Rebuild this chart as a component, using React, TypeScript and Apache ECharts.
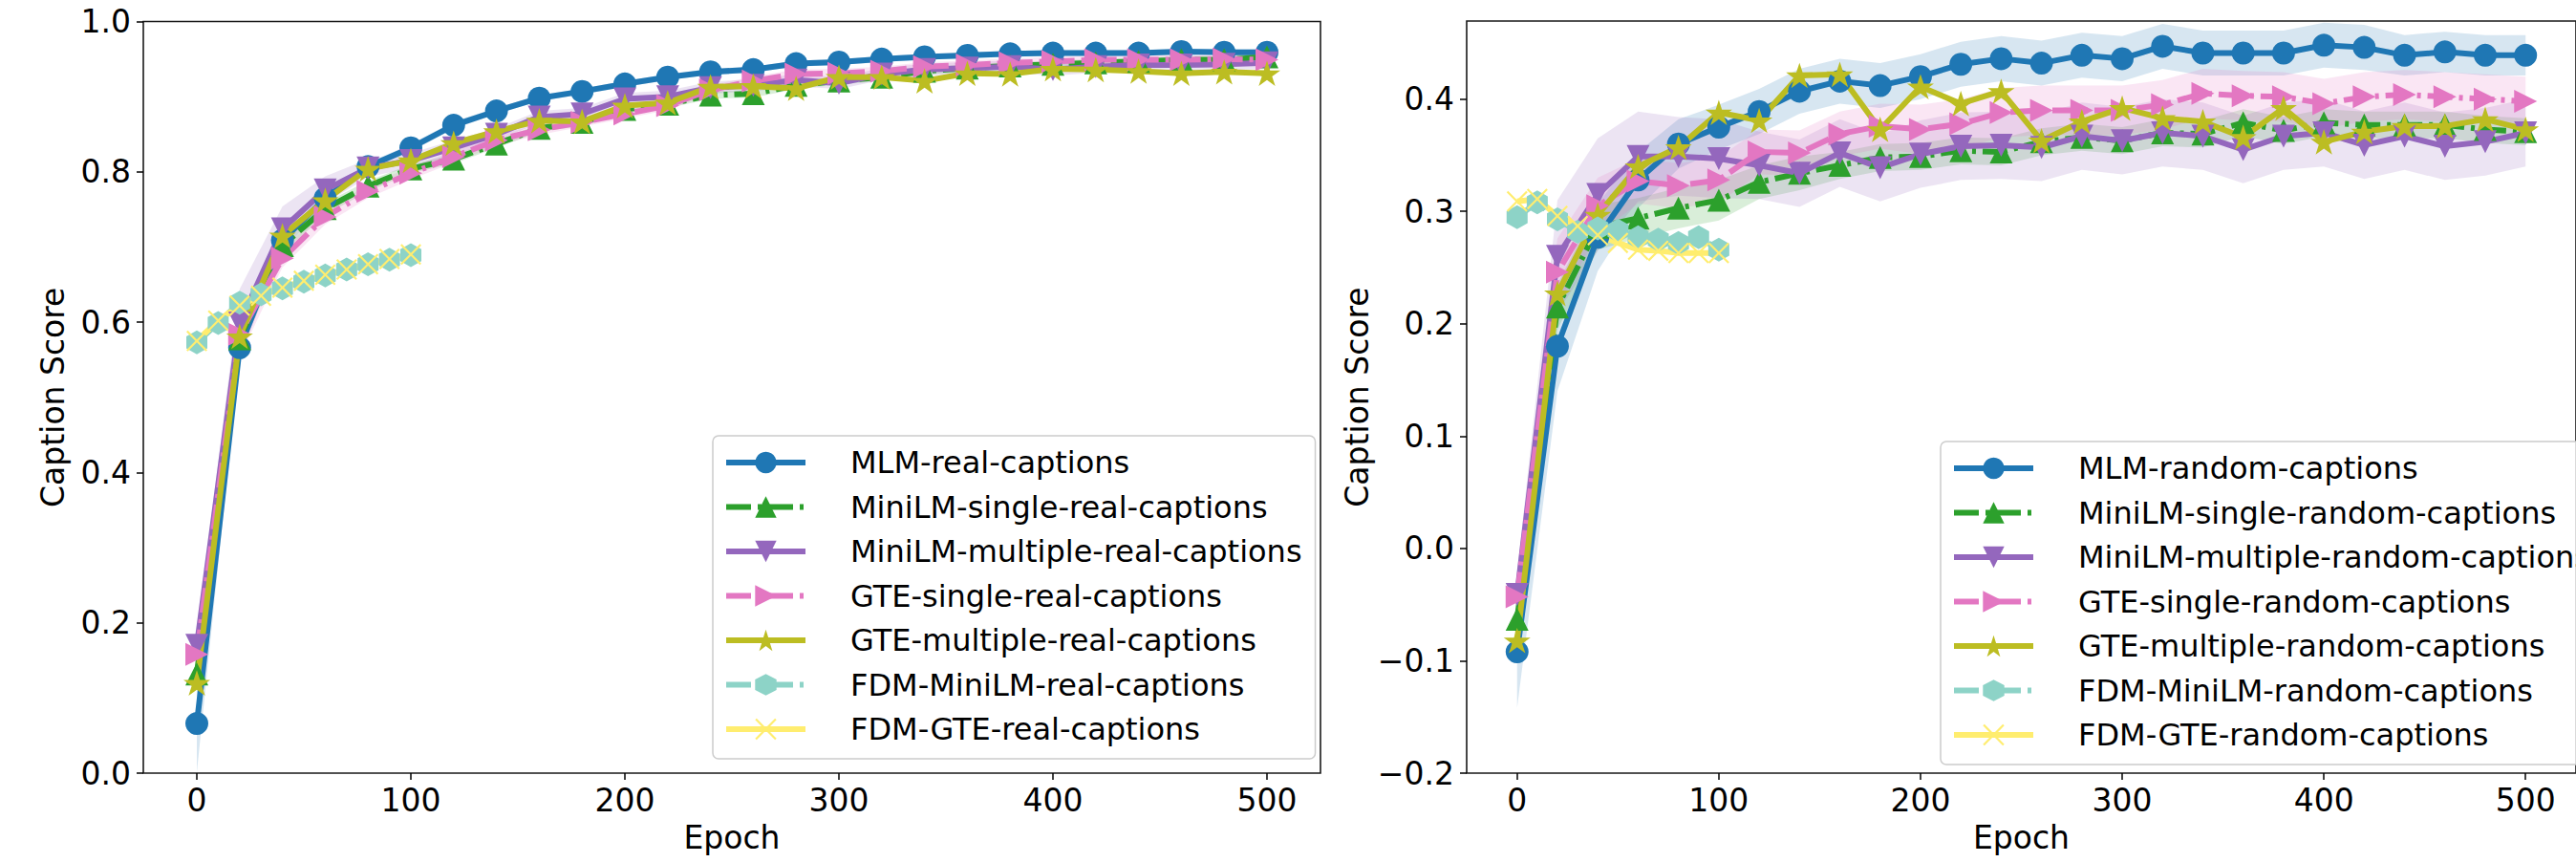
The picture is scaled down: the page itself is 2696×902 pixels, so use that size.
import React, { useEffect, useRef } from "react";
import * as echarts from "echarts";

// ---------- data ----------
const epochs = [0, 20, 40, 60, 80, 100, 120, 140, 160, 180, 200, 220, 240, 260, 280, 300, 320, 340, 360, 380, 400, 420, 440, 460, 480, 500];
const fdmEpochs = [0, 10, 20, 30, 40, 50, 60, 70, 80, 90, 100];

const xTicks = [0, 100, 200, 300, 400, 500];
const yTicksLeft = [0, 0.2, 0.4, 0.6, 0.8, 1.0];
const yTicksRight = [-0.2, -0.1, 0, 0.1, 0.2, 0.3, 0.4];

// left panel (real captions)
const mlmReal = [0.066, 0.566, 0.709, 0.765, 0.807, 0.832, 0.862, 0.881, 0.898, 0.907, 0.917, 0.926, 0.933, 0.936, 0.944, 0.946, 0.950, 0.953, 0.955, 0.957, 0.958, 0.958, 0.958, 0.960, 0.959, 0.959];
const miniSingleReal = [0.132, 0.578, 0.702, 0.751, 0.781, 0.804, 0.817, 0.837, 0.858, 0.866, 0.883, 0.890, 0.902, 0.904, 0.915, 0.921, 0.926, 0.934, 0.938, 0.941, 0.943, 0.945, 0.947, 0.949, 0.949, 0.953];
const miniMultiReal = [0.170, 0.599, 0.724, 0.776, 0.805, 0.815, 0.832, 0.850, 0.873, 0.877, 0.897, 0.900, 0.912, 0.915, 0.922, 0.918, 0.930, 0.936, 0.938, 0.940, 0.936, 0.940, 0.942, 0.942, 0.943, 0.945];
const gteSingleReal = [0.158, 0.584, 0.685, 0.740, 0.774, 0.798, 0.820, 0.842, 0.856, 0.866, 0.877, 0.888, 0.909, 0.921, 0.930, 0.931, 0.934, 0.940, 0.942, 0.945, 0.947, 0.949, 0.949, 0.949, 0.950, 0.949];
const gteMultiReal = [0.120, 0.581, 0.715, 0.762, 0.804, 0.815, 0.838, 0.854, 0.868, 0.867, 0.888, 0.892, 0.913, 0.914, 0.911, 0.926, 0.926, 0.921, 0.931, 0.930, 0.937, 0.936, 0.934, 0.931, 0.933, 0.931];
const fdmMiniReal = [0.573, 0.599, 0.626, 0.637, 0.645, 0.654, 0.662, 0.670, 0.677, 0.683, 0.689];
const fdmGteReal = [0.575, 0.602, 0.622, 0.635, 0.646, 0.655, 0.663, 0.670, 0.677, 0.684, 0.690];

const mlmRealStd = [0.065, 0.012, 0.006, 0.005, 0.005, 0.005, 0.005, 0.004, 0.004, 0.004, 0.004, 0.004, 0.004, 0.004, 0.004, 0.004, 0.004, 0.004, 0.004, 0.004, 0.004, 0.004, 0.004, 0.004, 0.004, 0.004];
const miniSingleRealStd = [0.012, 0.02, 0.01, 0.008, 0.007, 0.006, 0.006, 0.005, 0.005, 0.005, 0.005, 0.005, 0.005, 0.005, 0.005, 0.005, 0.005, 0.005, 0.005, 0.005, 0.005, 0.005, 0.005, 0.005, 0.005, 0.005];
const miniMultiRealStd = [0.015, 0.045, 0.03, 0.018, 0.012, 0.01, 0.01, 0.008, 0.008, 0.008, 0.008, 0.008, 0.008, 0.008, 0.008, 0.008, 0.008, 0.008, 0.008, 0.008, 0.008, 0.008, 0.008, 0.008, 0.008, 0.008];
const gteSingleRealStd = [0.02, 0.03, 0.012, 0.01, 0.009, 0.008, 0.008, 0.007, 0.007, 0.006, 0.006, 0.006, 0.006, 0.006, 0.006, 0.006, 0.006, 0.006, 0.006, 0.006, 0.006, 0.006, 0.006, 0.006, 0.006, 0.006];

// right panel (random captions)
const mlmRand = [-0.092, 0.180, 0.277, 0.328, 0.360, 0.375, 0.389, 0.407, 0.416, 0.412, 0.420, 0.431, 0.436, 0.432, 0.439, 0.436, 0.447, 0.441, 0.441, 0.441, 0.448, 0.446, 0.439, 0.442, 0.439, 0.439];
const miniSingleRand = [-0.063, 0.215, 0.286, 0.294, 0.303, 0.310, 0.326, 0.334, 0.341, 0.348, 0.349, 0.354, 0.353, 0.362, 0.366, 0.363, 0.370, 0.369, 0.379, 0.372, 0.379, 0.377, 0.377, 0.377, 0.373, 0.371];
const miniMultiRand = [-0.041, 0.260, 0.315, 0.349, 0.349, 0.347, 0.341, 0.334, 0.352, 0.339, 0.351, 0.358, 0.359, 0.357, 0.367, 0.363, 0.370, 0.367, 0.355, 0.367, 0.370, 0.359, 0.367, 0.358, 0.362, 0.370];
const gteSingleRand = [-0.043, 0.246, 0.305, 0.327, 0.323, 0.328, 0.353, 0.352, 0.369, 0.376, 0.373, 0.378, 0.388, 0.390, 0.390, 0.390, 0.395, 0.405, 0.403, 0.402, 0.396, 0.402, 0.404, 0.402, 0.400, 0.398];
const gteMultiRand = [-0.082, 0.227, 0.297, 0.340, 0.357, 0.388, 0.381, 0.421, 0.422, 0.373, 0.411, 0.396, 0.407, 0.363, 0.380, 0.392, 0.383, 0.380, 0.366, 0.392, 0.362, 0.371, 0.376, 0.376, 0.382, 0.373];
const fdmMiniRand = [0.295, 0.308, 0.293, 0.282, 0.285, 0.283, 0.277, 0.275, 0.272, 0.277, 0.266];
const fdmGteRand = [0.309, 0.311, 0.296, 0.287, 0.279, 0.272, 0.266, 0.265, 0.263, 0.263, 0.263];

const mlmRandStd = [0.05, 0.04, 0.03, 0.025, 0.022, 0.02, 0.02, 0.02, 0.02, 0.02, 0.02, 0.02, 0.02, 0.02, 0.02, 0.02, 0.02, 0.02, 0.02, 0.02, 0.02, 0.02, 0.018, 0.018, 0.018, 0.018];
const miniSingleRandStd = [0.012, 0.02, 0.02, 0.018, 0.018, 0.018, 0.015, 0.015, 0.012, 0.012, 0.012, 0.012, 0.012, 0.012, 0.012, 0.012, 0.012, 0.012, 0.012, 0.012, 0.012, 0.012, 0.012, 0.012, 0.012, 0.012];
const miniMultiRandStd = [0.02, 0.05, 0.05, 0.04, 0.035, 0.035, 0.03, 0.03, 0.03, 0.03, 0.03, 0.03, 0.03, 0.03, 0.03, 0.03, 0.03, 0.03, 0.03, 0.03, 0.03, 0.03, 0.03, 0.03, 0.03, 0.03];
const gteSingleRandStd = [0.02, 0.03, 0.025, 0.02, 0.02, 0.02, 0.02, 0.02, 0.02, 0.02, 0.022, 0.022, 0.022, 0.022, 0.022, 0.022, 0.022, 0.022, 0.022, 0.022, 0.022, 0.022, 0.022, 0.022, 0.022, 0.022];

const namesReal = ["MLM-real-captions", "MiniLM-single-real-captions", "MiniLM-multiple-real-captions", "GTE-single-real-captions", "GTE-multiple-real-captions", "FDM-MiniLM-real-captions", "FDM-GTE-real-captions"];
const namesRand = ["MLM-random-captions", "MiniLM-single-random-captions", "MiniLM-multiple-random-captions", "GTE-single-random-captions", "GTE-multiple-random-captions", "FDM-MiniLM-random-captions", "FDM-GTE-random-captions"];

// ---------- styling ----------
const FONT = "DejaVu Sans";
const C = {
  blue: "#1f77b4",
  green: "#2ca02c",
  purple: "#9467bd",
  pink: "#e377c2",
  olive: "#bcbd22",
  teal: "#8dd3c7",
  yellow: "#ffed6f",
};
const STAR = "path://M0,-1L0.2245,-0.309L0.951,-0.309L0.363,0.118L0.588,0.809L0,0.382L-0.588,0.809L-0.363,0.118L-0.951,-0.309L-0.2245,-0.309Z";
const HEX = "path://M0.5,0L1,0.25L1,0.75L0.5,1L0,0.75L0,0.25Z";
const XMARK = "path://M0,0.07L0.07,0L0.5,0.43L0.93,0L1,0.07L0.57,0.5L1,0.93L0.93,1L0.5,0.57L0.07,1L0,0.93L0.43,0.5Z";
const DASHDOT = [26, 7, 4, 7];
const LW = 6;

type Spec = {
  name: string;
  color: string;
  dash: boolean;
  symbol: string;
  rotate: number;
  size: number | number[];
  xs: number[];
  ys: number[];
  std?: number[];
};

function panelSpecs(names: string[], d: number[][], stds: (number[] | undefined)[]): Spec[] {
  return [
    { name: names[0], color: C.blue, dash: false, symbol: "circle", rotate: 0, size: 24, xs: epochs, ys: d[0], std: stds[0] },
    { name: names[1], color: C.green, dash: true, symbol: "triangle", rotate: 0, size: 24, xs: epochs, ys: d[1], std: stds[1] },
    { name: names[2], color: C.purple, dash: false, symbol: "triangle", rotate: 180, size: 24, xs: epochs, ys: d[2], std: stds[2] },
    { name: names[3], color: C.pink, dash: true, symbol: "triangle", rotate: -90, size: 24, xs: epochs, ys: d[3], std: stds[3] },
    { name: names[4], color: C.olive, dash: false, symbol: STAR, rotate: 0, size: 28, xs: epochs, ys: d[4] },
    { name: names[5], color: C.teal, dash: true, symbol: HEX, rotate: 0, size: [22, 25], xs: fdmEpochs, ys: d[5] },
    { name: names[6], color: C.yellow, dash: false, symbol: XMARK, rotate: 0, size: 22, xs: fdmEpochs, ys: d[6] },
  ];
}

const leftSpecs = panelSpecs(
  namesReal,
  [mlmReal, miniSingleReal, miniMultiReal, gteSingleReal, gteMultiReal, fdmMiniReal, fdmGteReal],
  [mlmRealStd, miniSingleRealStd, miniMultiRealStd, gteSingleRealStd]
);
const rightSpecs = panelSpecs(
  namesRand,
  [mlmRand, miniSingleRand, miniMultiRand, gteSingleRand, gteMultiRand, fdmMiniRand, fdmGteRand],
  [mlmRandStd, miniSingleRandStd, miniMultiRandStd, gteSingleRandStd]
);

function bandSeries(s: Spec, g: number) {
  const xs = s.xs;
  const ys = s.ys;
  const sd = s.std as number[];
  return {
    type: "custom",
    xAxisIndex: g,
    yAxisIndex: g,
    silent: true,
    clip: true,
    z: 1,
    data: [[xs[0], ys[0]]],
    renderItem: (_p: any, api: any) => {
      const up = xs.map((x, i) => api.coord([x, ys[i] + sd[i]]));
      const lo = xs.map((x, i) => api.coord([x, ys[i] - sd[i]])).reverse();
      return {
        type: "polygon",
        shape: { points: up.concat(lo) },
        style: { fill: s.color, opacity: 0.18 },
      };
    },
  };
}

function lineSeries(s: Spec, g: number) {
  return {
    type: "line",
    name: s.name,
    xAxisIndex: g,
    yAxisIndex: g,
    data: s.xs.map((x, i) => [x, s.ys[i]]),
    symbol: s.symbol,
    symbolSize: s.size,
    symbolRotate: s.rotate,
    symbolKeepAspect: s.symbol === STAR,
    showSymbol: true,
    lineStyle: { color: s.color, width: LW, type: s.dash ? DASHDOT : "solid", cap: "butt", join: "round" },
    itemStyle: { color: s.color },
    emphasis: { disabled: true },
    silent: true,
    z: 2,
  };
}

const axisText = { fontFamily: FONT, fontSize: 33, color: "#000" };

function xAxis(g: number) {
  return {
    type: "value",
    gridIndex: g,
    min: -25,
    max: 525,
    name: "Epoch",
    nameLocation: "middle",
    nameGap: 51,
    nameTextStyle: axisText,
    splitLine: { show: false },
    axisLine: { show: false, onZero: false },
    axisTick: { show: true, inside: false, length: 7, customValues: xTicks, lineStyle: { color: "#000", width: 1.5 } },
    axisLabel: { ...axisText, margin: 12, customValues: xTicks, formatter: (v: number) => String(v) },
  };
}

function yAxis(g: number, min: number, max: number, ticks: number[], gap: number) {
  return {
    type: "value",
    gridIndex: g,
    min,
    max,
    name: "Caption Score",
    nameLocation: "middle",
    nameGap: gap,
    nameTextStyle: axisText,
    splitLine: { show: false },
    axisLine: { show: false, onZero: false },
    axisTick: { show: true, inside: false, length: 7, customValues: ticks, lineStyle: { color: "#000", width: 1.5 } },
    axisLabel: {
      ...axisText,
      margin: 13,
      customValues: ticks,
      formatter: (v: number) => (v < -1e-9 ? "\u2212" + Math.abs(v).toFixed(1) : Math.abs(v).toFixed(1)),
    },
  };
}

function legend(names: string[], left: number, top: number) {
  return {
    orient: "vertical",
    left,
    top,
    data: names,
    selectedMode: false,
    itemWidth: 83,
    itemHeight: 28,
    itemGap: 14.5,
    padding: [12, 14, 15, 11],
    backgroundColor: "rgba(255,255,255,0.8)",
    borderColor: "#cccccc",
    borderWidth: 1.5,
    borderRadius: 6,
    lineStyle: { width: LW },
    textStyle: { fontFamily: FONT, fontSize: 32, color: "#000", lineHeight: 32, padding: [0, 0, 0, 42] },
  };
}

function buildOption() {
  const series: any[] = [];
  [leftSpecs, rightSpecs].forEach((specs, g) => {
    specs.forEach((s) => {
      if (s.std) series.push(bandSeries(s, g));
    });
  });
  [leftSpecs, rightSpecs].forEach((specs, g) => {
    specs.forEach((s) => series.push(lineSeries(s, g)));
  });
  return {
    animation: false,
    backgroundColor: "#ffffff",
    textStyle: { fontFamily: FONT },
    grid: [
      { left: 150, top: 22.5, width: 1232, height: 786.5, show: true, borderColor: "#1a1a1a", borderWidth: 1.6, backgroundColor: "transparent" },
      { left: 1535, top: 22, width: 1190, height: 787, show: true, borderColor: "#1a1a1a", borderWidth: 1.6, backgroundColor: "transparent" },
    ],
    xAxis: [xAxis(0), xAxis(1)],
    yAxis: [yAxis(0, 0, 1, yTicksLeft, 78), yAxis(1, -0.2, 0.4695, yTicksRight, 98)],
    legend: [legend(namesReal, 746, 456), legend(namesRand, 2031, 462)],
    series,
  };
}

export default function App() {
  const ref = useRef<HTMLDivElement>(null);
  useEffect(() => {
    document.body.style.margin = "0";
    const chart = echarts.init(ref.current as HTMLDivElement, null, { renderer: "svg" });
    chart.setOption(buildOption() as any);
    return () => chart.dispose();
  }, []);
  return (
    <div
      ref={ref}
      style={{ position: "absolute", left: 0, top: 0, width: 2696, height: 902, overflow: "hidden", background: "#fff" }}
    />
  );
}
